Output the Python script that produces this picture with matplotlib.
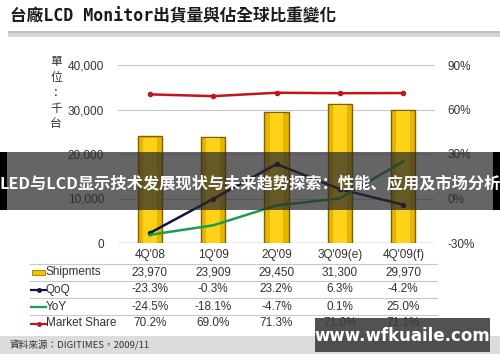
import matplotlib
matplotlib.use("Agg")
import matplotlib.pyplot as plt
from matplotlib.patches import Rectangle
from matplotlib.lines import Line2D
from matplotlib.transforms import blended_transform_factory

plt.rcParams['font.family'] = ['Liberation Sans', 'Noto Sans CJK TC', 'DejaVu Sans']

# data
categories = ["4Q'08", "1Q'09", "2Q'09", "3Q'09(e)", "4Q'09(f)"]
shipments = [23970, 23909, 29450, 31300, 29970]
qoq = [-23.3, -0.3, 23.2, 6.3, -4.2]
yoy = [-24.5, -18.1, -4.7, 0.1, 25.0]
market_share = [70.2, 69.0, 71.3, 71.0, 71.1]
left_ticks = [0, 10000, 20000, 30000, 40000]
right_ticks = [-30, 0, 30, 60, 90]

W, H = 500, 362
fig = plt.figure(figsize=(5, 3.62), dpi=100)
fig.patch.set_facecolor('white')


def fy(py):
    return 1 - py / H


# header
fig.text(10 / W, fy(16), "台廠LCD Monitor出貨量與佔全球比重變化", fontsize=12,
         fontweight='bold', family=['DejaVu Sans Mono', 'Noto Sans CJK TC'],
         color='#1a1a1a', va='center', ha='left')
fig.patches.append(Rectangle((8 / W, fy(37)), 1 - 8 / W, 4 / H, transform=fig.transFigure,
                             facecolor='#d6d6d6', edgecolor='none'))
fig.patches.append(Rectangle((8 / W, fy(33)), 1 - 8 / W, 1.5 / H, transform=fig.transFigure,
                             facecolor='#bdbdbd', edgecolor='none'))

ax = fig.add_axes([118 / W, fy(243), 317 / W, 178 / H])
ax2 = ax.twinx()
x = list(range(len(categories)))

ax.bar(x, shipments, width=0.38, color='#E8B400', edgecolor='#7d6100', linewidth=1, zorder=2)
ax.bar(x, [s - 300 for s in shipments], width=0.22, color='#FFD21A', edgecolor='none', zorder=3)
ax.set_xlim(-0.5, 4.5)
ax.set_ylim(0, 40000)
ax.set_yticks(left_ticks)
ax.set_yticklabels([f"{t:,}" for t in left_ticks])
ax.set_xticks([])
ax.grid(axis='y', color='#c8c8c8', linewidth=0.8, zorder=0)
ax.set_axisbelow(True)

ax2.plot(x, market_share, color='#c0161c', lw=1.8, marker='o', ms=3, zorder=5)
ax2.plot(x, qoq, color='#0c1640', lw=1.8, marker='o', ms=3, zorder=5)
ax2.plot(x, yoy, color='#15a050', lw=1.8, zorder=5)
ax2.set_ylim(-30, 90)
ax2.set_yticks(right_ticks)
ax2.set_yticklabels([f"{t}%" for t in right_ticks])

for a in (ax, ax2):
    for s in a.spines.values():
        s.set_visible(False)
    a.tick_params(length=0, labelsize=8.5, labelcolor='#333333')
ax.tick_params(axis='y', pad=10)
ax2.tick_params(axis='y', pad=9)
ax.axhline(0, color='#b0b0b0', lw=1, zorder=1)

# unit label
fig.text(56 / W, fy(93), "單\n位\n：\n千\n台", fontsize=8.5, color='#333333',
         ha='center', va='center', linespacing=1.25,
         family=['Noto Sans CJK TC', 'DejaVu Sans'])

# data table under the chart
tr = blended_transform_factory(ax.transData, fig.transFigure)
row_y = [255, 272.5, 289.5, 306.5, 323.5]
rows = [
    categories,
    [f"{v:,}" for v in shipments],
    [f"{v:.1f}%" for v in qoq],
    [f"{v:.1f}%" for v in yoy],
    [f"{v:.1f}%" for v in market_share],
]
for r, vals in enumerate(rows):
    for i, v in enumerate(vals):
        fig.text(x[i], fy(row_y[r]), v, transform=tr, ha='center', va='center',
                 fontsize=8.5, color='#333333')

for ly in [264, 281, 298, 315]:
    fig.add_artist(Line2D([30 / W, 437 / W], [fy(ly), fy(ly)], transform=fig.transFigure,
                          color='#c8c8c8', lw=0.8))

row_names = ["Shipments", "QoQ", "YoY", "Market Share"]
for k, name in enumerate(row_names):
    fig.text(46 / W, fy(row_y[k + 1]), name, fontsize=8.5, color='#333333',
             ha='left', va='center')
yy = fy(row_y[1])
fig.patches.append(Rectangle((32 / W, yy - 2.5 / H), 13 / W, 5 / H, transform=fig.transFigure,
                             facecolor='#F5C400', edgecolor='#9a7a00', lw=0.6))
for k, c in [(2, '#0c1640'), (3, '#15a050'), (4, '#c0161c')]:
    yy = fy(row_y[k])
    fig.add_artist(Line2D([31 / W, 46 / W], [yy, yy], transform=fig.transFigure,
                          color=c, lw=1.6))
    if k != 3:
        fig.add_artist(Line2D([38.5 / W], [yy], transform=fig.transFigure, color=c,
                              marker='o', ms=2.5))

# source strip
fig.patches.append(Rectangle((0, fy(354)), 1, 18 / H, transform=fig.transFigure,
                             facecolor='#dcdcdc', edgecolor='none'))
fig.text(10 / W, fy(345), "資料來源：DIGITIMES，2009/11", fontsize=6.9, color='#333333',
         ha='left', va='center', family=['Noto Sans CJK TC', 'DejaVu Sans'])

# overlay banner
fig.patches.append(Rectangle((0, fy(210)), 1, 58 / H, transform=fig.transFigure,
                             facecolor='#2a2a2a', alpha=0.72, edgecolor='none', zorder=10))
fig.patches.append(Rectangle((0, fy(210)), 7 / W, 58 / H, transform=fig.transFigure,
                             facecolor='black', edgecolor='none', zorder=11))
fig.patches.append(Rectangle((493 / W, fy(210)), 7 / W, 58 / H, transform=fig.transFigure,
                             facecolor='black', edgecolor='none', zorder=11))
fig.text(0.5, fy(183), "LED与LCD显示技术发展现状与未来趋势探索：性能、应用及市场分析",
         fontsize=11.7, fontweight='bold', color='white', ha='center', va='center',
         family=['Noto Sans CJK SC', 'DejaVu Sans'], zorder=12)

# watermark
fig.patches.append(Rectangle((315 / W, fy(352)), 175 / W, 34 / H, transform=fig.transFigure,
                             facecolor='#3a3a3a', alpha=0.88, edgecolor='none', zorder=10))
fig.text(402 / W, fy(336), "www.wfkuaile.com", fontsize=12, fontweight='bold',
         color='white', ha='center', va='center', family='DejaVu Sans', zorder=12)

fig.savefig("out.png", dpi=100)
